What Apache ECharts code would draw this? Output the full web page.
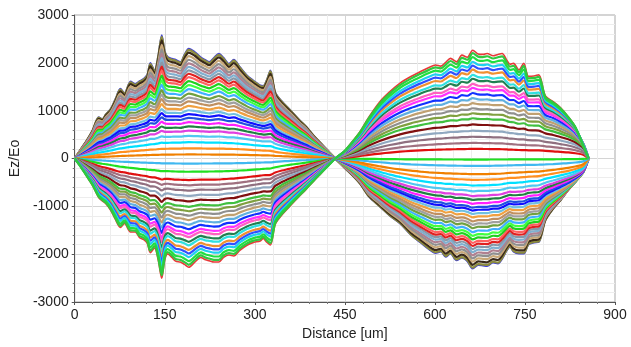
<!DOCTYPE html>
<html><head><meta charset="utf-8">
<script src="https://cdn.jsdelivr.net/npm/echarts@6/dist/echarts.min.js"></script>
<style>html,body{margin:0;padding:0;background:#fff}#c{width:631px;height:347px}</style>
</head><body><div id="c"></div>
<script>
// Lobe 1 sample positions (um) and outer envelopes
const x1 = [0,10,20,30,40,46,52,60,68,76,83,93,101,108,115,121,126,133,139,145,150,155,162,168,176,183,190,200,210,218,224,232,240,248,257,265,275,287,298,309,314,320,326,334,345,355,365,375,385,398,410,422];
const top1 = [0,190,380,600,866,830,930,1040,1250,1460,1370,1614,1560,1620,1670,1760,2000,1845,2150,2580,2250,2125,2090,2070,2020,2180,2300,2230,2120,2060,2020,2110,2195,2110,1985,2070,1920,1740,1630,1530,1520,1650,1845,1390,1200,1070,937,800,680,482,320,160];
const bot1 = [0,-180,-380,-580,-830,-900,-960,-1100,-1300,-1465,-1380,-1560,-1560,-1680,-1720,-1800,-2000,-1900,-2150,-2550,-2150,-2025,-2100,-2180,-2200,-2250,-2310,-2200,-2100,-2150,-2170,-2200,-2200,-2100,-2050,-2070,-1950,-1840,-1780,-1750,-1700,-1780,-1840,-1400,-1200,-1060,-920,-790,-660,-480,-320,-160];
const base1 = [0,170,350,540,740,830,920,1040,1180,1300,1390,1500,1580,1650,1720,1780,1820,1880,1930,1970,2000,2030,2060,2080,2090,2100,2100,2100,2100,2090,2080,2070,2060,2040,2010,1980,1930,1860,1780,1700,1660,1620,1570,1400,1200,1060,930,800,670,480,320,160];
// Lobe 2
const x2 = [434,450,465,476,490,509,525,542,560,576,590,601,610,618,626,636,645,654,663,672,680,687,697,705,712,720,725,731,740,748,756,765,773,784,797,809,822,834,847,856];
const top2 = [0,170,400,587,880,1216,1420,1600,1740,1845,1930,1985,1960,2040,2125,2050,2195,2150,2300,2220,2210,2230,2180,2210,2230,2080,2000,2020,1880,2020,1740,1750,1775,1320,1200,1075,880,656,250,0];
const bot2 = [0,-200,-385,-540,-800,-1015,-1200,-1360,-1600,-1760,-1900,-1980,-1950,-2060,-1990,-2130,-2080,-2150,-2305,-2230,-2240,-2250,-2180,-2200,-2100,-1920,-1850,-1950,-1990,-1990,-1800,-1760,-1750,-1300,-1050,-875,-650,-450,-200,0];
const base2 = [0,180,380,560,820,1120,1350,1550,1720,1840,1930,1990,2030,2060,2090,2120,2140,2160,2170,2170,2160,2150,2130,2110,2090,2050,2020,1990,1940,1900,1880,1860,1830,1780,1680,1550,1420,1240,900,0];
// Relative level of each curve in lobe 1 and lobe 2 (1 = outer top, -1 = outer bottom)
const amp1 = [1.00,0.988,0.965,0.935,0.905,0.875,0.845,0.815,0.785,0.755,0.72,0.685,0.65,0.61,0.575,0.54,0.50,0.46,0.425,0.39,0.35,0.31,0.27,0.22,0.16,0.10,0.04,-0.05,-0.13,-0.21,-0.26,-0.31,-0.36,-0.41,-0.46,-0.50,-0.54,-0.58,-0.62,-0.66,-0.70,-0.73,-0.77,-0.80,-0.84,-0.87,-0.90,-0.935,-0.965,-0.985];
const amp2 = [-1.00,-0.99,-0.966,-0.938,-0.911,-0.884,-0.857,-0.830,-0.803,-0.776,-0.745,-0.714,-0.681,-0.646,-0.615,-0.584,-0.549,-0.518,-0.487,-0.46,-0.425,-0.389,-0.354,-0.31,-0.257,-0.204,-0.15,-0.071,-0.01,0.092,0.149,0.207,0.264,0.322,0.379,0.425,0.471,0.517,0.563,0.609,0.655,0.69,0.736,0.77,0.816,0.851,0.885,0.925,0.96,0.985];
const lineColors = ['#4040d8','#8c8c3c','#3a2a1a','#c8a878','#909090','#b08090','#80b0d0','#8898a8','#e02020','#ff6060','#20d020','#40ff40','#40b0ff','#70a040','#a0a0a0','#c09060','#f0a040','#70c0e0','#1010ff','#2050e0','#ff20ff','#208040','#e040e0','#50c8f0','#00e0ff','#ff9020','#f08000','#40b8f0','#20e020','#e01010','#a07080','#907080','#90a8c0','#801010','#40c040','#80a040','#909090','#c0a070','#60b0e0','#1030ff','#ff30ff','#ff60c0','#208050','#30e0e0','#f09030','#3050ff','#20d0f0','#20e040','#30c840','#e83838'];
const yTicks = ['-3000','-2000','-1000','0','1000','2000','3000'];

function level(a, t, b, base) {
  const E = a >= 0 ? t : -b;
  const w = Math.abs(a);
  return a * (base + w * (E - base));
}
const series = lineColors.map((c, k) => {
  const data = [];
  x1.forEach((x, j) => data.push([x, level(amp1[k], top1[j], bot1[j], base1[j])]));
  x2.forEach((x, j) => data.push([x, level(amp2[k], top2[j], bot2[j], base2[j])]));
  const outer = (k === 0 || k === lineColors.length - 1);
  return {type:'line', data, smooth:0.3, showSymbol:false, silent:true, z: outer ? 1 : 2,
    lineStyle:{color:c, width: outer ? 1.6 : 2.2}, itemStyle:{color:c}};
});
const font = 'Liberation Sans, Arial, sans-serif';
const chart = echarts.init(document.getElementById('c'), null, {renderer:'canvas'});
chart.setOption({
  animation:false,
  backgroundColor:'#fff',
  grid:{left:74, right:16, top:15, bottom:45, show:true, borderColor:'#a8a8a8', borderWidth:1},
  xAxis:{type:'value', min:0, max:900, interval:150,
    name:'Distance [um]', nameLocation:'middle', nameGap:23,
    nameTextStyle:{fontFamily:font, fontSize:14, color:'#222'},
    axisLine:{onZero:false, lineStyle:{color:'#555'}},
    axisTick:{show:true, length:3, lineStyle:{color:'#555'}},
    minorTick:{show:true, splitNumber:5, length:2, lineStyle:{color:'#777'}},
    axisLabel:{fontFamily:font, fontSize:14, color:'#222', margin:6},
    splitLine:{show:true, lineStyle:{color:'#d4d4d4'}},
    minorSplitLine:{show:true, lineStyle:{color:'#ededed'}}},
  yAxis:{type:'value', min:-3000, max:3000, interval:1000,
    name:'Ez/Eo', nameLocation:'middle', nameGap:41, nameRotate:90,
    nameTextStyle:{fontFamily:font, fontSize:14, color:'#222'},
    axisLine:{show:true, lineStyle:{color:'#555'}},
    axisTick:{show:true, length:3, lineStyle:{color:'#555'}},
    minorTick:{show:true, splitNumber:5, length:2, lineStyle:{color:'#777'}},
    axisLabel:{fontFamily:font, fontSize:14, color:'#222', margin:6,
      formatter: v => yTicks[Math.round((v + 3000) / 1000)]},
    splitLine:{show:true, lineStyle:{color:'#d4d4d4'}},
    minorSplitLine:{show:true, lineStyle:{color:'#ededed'}}},
  series
});
</script></body></html>
